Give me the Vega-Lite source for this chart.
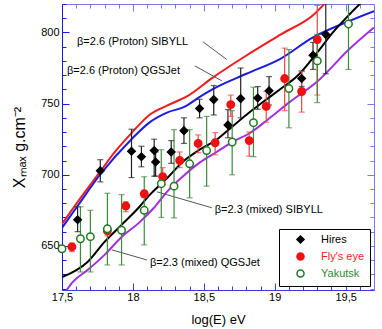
{
  "$schema": "https://vega.github.io/schema/vega-lite/v6.json",
  "width": 312,
  "height": 286,
  "autosize": {"type": "none"},
  "padding": {"left": 62, "top": 4, "right": 8, "bottom": 39},
  "config": {"view": {"stroke": null}, "font": "Liberation Sans"},
  "datasets": {
    "pts": [
      {"set": "Hires", "x": 17.61, "y": 668.3, "lo": 660, "hi": 677.5},
      {"set": "Hires", "x": 17.77, "y": 702.8, "lo": 695, "hi": 710.6},
      {"set": "Hires", "x": 17.99, "y": 716.5, "lo": 698, "hi": 732},
      {"set": "Hires", "x": 18.06, "y": 712.7, "lo": 705.6, "hi": 720},
      {"set": "Hires", "x": 18.15, "y": 717, "lo": 699, "hi": 725},
      {"set": "Hires", "x": 18.16, "y": 709, "lo": 699, "hi": 716},
      {"set": "Hires", "x": 18.27, "y": 716, "lo": 708, "hi": 724},
      {"set": "Hires", "x": 18.36, "y": 731, "lo": 722, "hi": 740},
      {"set": "Hires", "x": 18.47, "y": 746.5, "lo": 740, "hi": 753},
      {"set": "Hires", "x": 18.57, "y": 752.8, "lo": 742, "hi": 762.7},
      {"set": "Hires", "x": 18.67, "y": 735, "lo": 726, "hi": 745.8},
      {"set": "Hires", "x": 18.76, "y": 753.5, "lo": 740, "hi": 775},
      {"set": "Hires", "x": 18.88, "y": 754, "lo": 746, "hi": 762},
      {"set": "Hires", "x": 18.96, "y": 759, "lo": 749, "hi": 769},
      {"set": "Hires", "x": 19.19, "y": 767.6, "lo": 762, "hi": 773},
      {"set": "Hires", "x": 19.27, "y": 784, "lo": 774, "hi": 793},
      {"set": "Hires", "x": 19.36, "y": 798.6, "lo": 771, "hi": 830},
      {"set": "Fly's eye", "x": 17.57, "y": 649.3, "lo": 646, "hi": 652},
      {"set": "Fly's eye", "x": 17.82, "y": 660.6, "lo": 657, "hi": 664},
      {"set": "Fly's eye", "x": 17.95, "y": 678, "lo": 674, "hi": 681},
      {"set": "Fly's eye", "x": 18.08, "y": 686.6, "lo": 684, "hi": 689},
      {"set": "Fly's eye", "x": 18.21, "y": 698.6, "lo": 693, "hi": 705},
      {"set": "Fly's eye", "x": 18.33, "y": 710, "lo": 705, "hi": 716},
      {"set": "Fly's eye", "x": 18.46, "y": 722, "lo": 715.5, "hi": 728},
      {"set": "Fly's eye", "x": 18.58, "y": 722.5, "lo": 714, "hi": 729.6},
      {"set": "Fly's eye", "x": 18.69, "y": 749.3, "lo": 741, "hi": 756},
      {"set": "Fly's eye", "x": 18.82, "y": 724, "lo": 713, "hi": 730},
      {"set": "Fly's eye", "x": 18.94, "y": 748, "lo": 737, "hi": 758.5},
      {"set": "Fly's eye", "x": 19.07, "y": 767.6, "lo": 745, "hi": 789},
      {"set": "Fly's eye", "x": 19.19, "y": 758.5, "lo": 744, "hi": 772.5},
      {"set": "Fly's eye", "x": 19.3, "y": 795, "lo": 756, "hi": 819},
      {"set": "Yakutsk", "x": 17.5, "y": 648, "lo": 646, "hi": 650},
      {"set": "Yakutsk", "x": 17.63, "y": 655, "lo": 631.7, "hi": 677.5},
      {"set": "Yakutsk", "x": 17.7, "y": 656.5, "lo": 631.7, "hi": 675},
      {"set": "Yakutsk", "x": 17.82, "y": 662, "lo": 636.6, "hi": 687},
      {"set": "Yakutsk", "x": 17.92, "y": 661, "lo": 636.6, "hi": 686},
      {"set": "Yakutsk", "x": 18.08, "y": 675, "lo": 650.7, "hi": 698.6},
      {"set": "Yakutsk", "x": 18.2, "y": 693.7, "lo": 670, "hi": 717.6},
      {"set": "Yakutsk", "x": 18.29, "y": 692, "lo": 669.7, "hi": 731.7},
      {"set": "Yakutsk", "x": 18.4, "y": 707.7, "lo": 683.8, "hi": 731.7},
      {"set": "Yakutsk", "x": 18.52, "y": 717, "lo": 692, "hi": 741},
      {"set": "Yakutsk", "x": 18.7, "y": 723, "lo": 700, "hi": 745},
      {"set": "Yakutsk", "x": 18.85, "y": 736.6, "lo": 712.7, "hi": 761.5},
      {"set": "Yakutsk", "x": 19.1, "y": 760.6, "lo": 733, "hi": 788},
      {"set": "Yakutsk", "x": 19.3, "y": 780, "lo": 750.7, "hi": 798.6},
      {"set": "Yakutsk", "x": 19.52, "y": 806, "lo": 774, "hi": 825}
    ],
    "lines": [
      {"series": "SIB26", "x": 17.5, "y": 665.5},
      {"series": "SIB26", "x": 17.606, "y": 680.3},
      {"series": "SIB26", "x": 17.768, "y": 702},
      {"series": "SIB26", "x": 17.873, "y": 716},
      {"series": "SIB26", "x": 17.993, "y": 729.6},
      {"series": "SIB26", "x": 18.12, "y": 742.3},
      {"series": "SIB26", "x": 18.24, "y": 748.6},
      {"series": "SIB26", "x": 18.38, "y": 755},
      {"series": "SIB26", "x": 18.563, "y": 768.3},
      {"series": "SIB26", "x": 18.803, "y": 784},
      {"series": "SIB26", "x": 19.05, "y": 799},
      {"series": "SIB26", "x": 19.28, "y": 813},
      {"series": "SIB26", "x": 19.366, "y": 821.8},
      {"series": "QGS26", "x": 17.5, "y": 662.7},
      {"series": "QGS26", "x": 17.606, "y": 677.5},
      {"series": "QGS26", "x": 17.768, "y": 700},
      {"series": "QGS26", "x": 17.99, "y": 725},
      {"series": "QGS26", "x": 18.12, "y": 737},
      {"series": "QGS26", "x": 18.24, "y": 743.7},
      {"series": "QGS26", "x": 18.37, "y": 748},
      {"series": "QGS26", "x": 18.46, "y": 754},
      {"series": "QGS26", "x": 18.56, "y": 760},
      {"series": "QGS26", "x": 18.8, "y": 771},
      {"series": "QGS26", "x": 19.04, "y": 781.5},
      {"series": "QGS26", "x": 19.27, "y": 796.5},
      {"series": "QGS26", "x": 19.5, "y": 807},
      {"series": "QGS26", "x": 19.7, "y": 815},
      {"series": "SIB23", "x": 17.5, "y": 628},
      {"series": "SIB23", "x": 17.68, "y": 638.7},
      {"series": "SIB23", "x": 17.8, "y": 652.8},
      {"series": "SIB23", "x": 17.92, "y": 664.8},
      {"series": "SIB23", "x": 18.04, "y": 676.8},
      {"series": "SIB23", "x": 18.12, "y": 686},
      {"series": "SIB23", "x": 18.24, "y": 697.5},
      {"series": "SIB23", "x": 18.35, "y": 709},
      {"series": "SIB23", "x": 18.47, "y": 717.6},
      {"series": "SIB23", "x": 18.59, "y": 724.6},
      {"series": "SIB23", "x": 18.7, "y": 733.8},
      {"series": "SIB23", "x": 18.82, "y": 743.7},
      {"series": "SIB23", "x": 18.94, "y": 752.8},
      {"series": "SIB23", "x": 19.05, "y": 761},
      {"series": "SIB23", "x": 19.155, "y": 769},
      {"series": "SIB23", "x": 19.3, "y": 786},
      {"series": "SIB23", "x": 19.41, "y": 800},
      {"series": "SIB23", "x": 19.53, "y": 813},
      {"series": "SIB23", "x": 19.62, "y": 822},
      {"series": "QGS23", "x": 17.52, "y": 617},
      {"series": "QGS23", "x": 17.57, "y": 624},
      {"series": "QGS23", "x": 17.68, "y": 633},
      {"series": "QGS23", "x": 17.8, "y": 643.7},
      {"series": "QGS23", "x": 17.92, "y": 656.3},
      {"series": "QGS23", "x": 18.04, "y": 666},
      {"series": "QGS23", "x": 18.155, "y": 677.5},
      {"series": "QGS23", "x": 18.24, "y": 688},
      {"series": "QGS23", "x": 18.35, "y": 698.6},
      {"series": "QGS23", "x": 18.47, "y": 708.5},
      {"series": "QGS23", "x": 18.59, "y": 716},
      {"series": "QGS23", "x": 18.7, "y": 723},
      {"series": "QGS23", "x": 18.82, "y": 729},
      {"series": "QGS23", "x": 18.95, "y": 738.7},
      {"series": "QGS23", "x": 19.1, "y": 750.7},
      {"series": "QGS23", "x": 19.3, "y": 765.5},
      {"series": "QGS23", "x": 19.53, "y": 788.7},
      {"series": "QGS23", "x": 19.7, "y": 803.5}
    ],
    "ann": [
      {"label": "β=2.6 (Proton) SIBYLL", "x": 17.606, "y": 793},
      {"label": "β=2.6 (Proton) QGSJet", "x": 17.535, "y": 773.2},
      {"label": "β=2.3 (mixed) SIBYLL", "x": 18.577, "y": 675.4},
      {"label": "β=2.3 (mixed) QGSJet", "x": 18.12, "y": 638}
    ],
    "lead": [
      {"x": 18.493, "y": 793.5, "x2": 18.662, "y2": 781},
      {"x": 18.437, "y": 776.5, "x2": 18.627, "y2": 766},
      {"x": 18.169, "y": 688, "x2": 18.556, "y2": 676.8},
      {"x": 17.852, "y": 647.2, "x2": 18.099, "y2": 640.1}
    ]
  },
  "resolve": {"axis": {"x": "independent", "y": "independent"}, "scale": {"color": "independent"}},
  "layer": [
    {
      "data": {"name": "lines"},
      "mark": {"type": "line", "strokeWidth": 2, "clip": true, "interpolate": "monotone"},
      "encoding": {
        "x": {
          "field": "x", "type": "quantitative",
          "scale": {"domain": [17.5, 19.7], "nice": false, "zero": false},
          "axis": {
            "orient": "bottom",
            "values": [17.5, 17.6, 17.7, 17.8, 17.9, 18, 18.1, 18.2, 18.3, 18.4, 18.5, 18.6, 18.7, 18.8, 18.9, 19, 19.1, 19.2, 19.3, 19.4, 19.5, 19.6, 19.7],
            "labelExpr": "abs(datum.value*2 - round(datum.value*2)) < 0.01 ? replace(format(datum.value, '.1~f'), '.', ',') : ''",
            "labelOverlap": false, "labelFlush": false,
            "tickSize": {"condition": {"test": "abs(datum.value*2 - round(datum.value*2)) < 0.01", "value": -7}, "value": -4},
            "labelPadding": 8,
            "grid": false,
            "domainColor": "#3a3aee", "tickColor": "#3a3aee",
            "labelColor": "black", "labelFontSize": 11, "labelFont": "Liberation Sans",
            "title": "log(E) eV", "titleFontSize": 13, "titleFontWeight": "normal", "titleColor": "black", "titlePadding": 8
          }
        },
        "y": {
          "field": "y", "type": "quantitative",
          "scale": {"domain": [619, 820], "nice": false, "zero": false},
          "axis": {
            "orient": "left",
            "values": [620, 630, 640, 650, 660, 670, 680, 690, 700, 710, 720, 730, 740, 750, 760, 770, 780, 790, 800, 810, 820],
            "labelExpr": "datum.value % 50 == 0 ? datum.label : ''",
            "labelOverlap": false, "labelFlush": false,
            "tickSize": {"condition": {"test": "datum.value % 50 == 0", "value": -7}, "value": -4},
            "labelPadding": 10,
            "grid": false,
            "domainColor": "#1a1ae8", "tickColor": "#1a1ae8",
            "labelColor": "black", "labelFontSize": 11, "labelFont": "Liberation Sans",
            "title": "Xₘₐₓ g.cm⁻²", "titleFontSize": 16, "titleFontWeight": "normal", "titleColor": "black", "titlePadding": 13
          }
        },
        "color": {
          "field": "series", "type": "nominal", "legend": null,
          "scale": {"domain": ["SIB26", "QGS26", "SIB23", "QGS23"], "range": ["#ee1c1c", "#1c1ce0", "#000000", "#a030e0"]}
        },
        "detail": {"field": "series"},
        "order": {"field": "x", "type": "quantitative"}
      }
    },
    {
      "data": {"name": "lead"},
      "mark": {"type": "rule", "color": "#555555", "strokeWidth": 1},
      "encoding": {
        "x": {"field": "x", "type": "quantitative", "axis": null},
        "y": {"field": "y", "type": "quantitative", "axis": null},
        "x2": {"field": "x2"},
        "y2": {"field": "y2"}
      }
    },
    {
      "data": {"name": "ann"},
      "mark": {"type": "text", "align": "left", "baseline": "middle", "fontSize": 11, "font": "Liberation Sans", "color": "black"},
      "encoding": {
        "x": {"field": "x", "type": "quantitative", "axis": null},
        "y": {"field": "y", "type": "quantitative", "axis": null},
        "text": {"field": "label"}
      }
    },
    {
      "data": {"name": "pts"},
      "mark": {"type": "rule", "strokeWidth": 1.2, "clip": true},
      "encoding": {
        "x": {"field": "x", "type": "quantitative", "axis": null},
        "y": {"field": "lo", "type": "quantitative", "axis": null},
        "y2": {"field": "hi"},
        "color": {"field": "set", "type": "nominal", "legend": null, "scale": {"domain": ["Hires", "Fly's eye", "Yakutsk"], "range": ["#222222", "#ee4444", "#3d8a3d"]}}
      }
    },
    {
      "data": {"name": "pts"},
      "mark": {"type": "tick", "orient": "horizontal", "size": 6, "thickness": 1.2, "clip": true},
      "encoding": {
        "x": {"field": "x", "type": "quantitative", "axis": null},
        "y": {"field": "lo", "type": "quantitative", "axis": null},
        "color": {"field": "set", "type": "nominal", "legend": null, "scale": {"domain": ["Hires", "Fly's eye", "Yakutsk"], "range": ["#222222", "#ee4444", "#3d8a3d"]}}
      }
    },
    {
      "data": {"name": "pts"},
      "mark": {"type": "tick", "orient": "horizontal", "size": 6, "thickness": 1.2, "clip": true},
      "encoding": {
        "x": {"field": "x", "type": "quantitative", "axis": null},
        "y": {"field": "hi", "type": "quantitative", "axis": null},
        "color": {"field": "set", "type": "nominal", "legend": null, "scale": {"domain": ["Hires", "Fly's eye", "Yakutsk"], "range": ["#222222", "#ee4444", "#3d8a3d"]}}
      }
    },
    {
      "data": {"name": "pts"},
      "mark": {"type": "point", "size": 55, "strokeWidth": 1.5, "opacity": 1},
      "encoding": {
        "x": {
          "field": "x", "type": "quantitative",
          "axis": {
            "orient": "top",
            "values": [17.5, 17.6, 17.7, 17.8, 17.9, 18, 18.1, 18.2, 18.3, 18.4, 18.5, 18.6, 18.7, 18.8, 18.9, 19, 19.1, 19.2, 19.3, 19.4, 19.5, 19.6, 19.7],
            "labels": false, "title": null, "grid": false,
            "tickSize": {"condition": {"test": "abs(datum.value*2 - round(datum.value*2)) < 0.01", "value": -7}, "value": -4},
            "domainColor": "#7a7ae6", "tickColor": "#7a7ae6"
          }
        },
        "y": {
          "field": "y", "type": "quantitative",
          "axis": {
            "orient": "right",
            "values": [620, 630, 640, 650, 660, 670, 680, 690, 700, 710, 720, 730, 740, 750, 760, 770, 780, 790, 800, 810, 820],
            "labels": false, "title": null, "grid": false,
            "tickSize": {"condition": {"test": "datum.value % 50 == 0", "value": -7}, "value": -4},
            "domainColor": "#7a7ae6", "tickColor": "#7a7ae6"
          }
        },
        "shape": {
          "field": "set", "type": "nominal",
          "scale": {"domain": ["Hires", "Fly's eye", "Yakutsk"], "range": ["diamond", "circle", "circle"]},
          "legend": {"title": null, "orient": "none", "legendX": 217, "legendY": 225, "direction": "vertical", "fillColor": "white", "strokeColor": "black", "padding": 5, "rowPadding": 2, "symbolSize": 50, "symbolStrokeWidth": 1.5, "symbolOffset": 11, "labelOffset": 15, "labelFontSize": 11, "labelFont": "Liberation Sans", "labelColor": {"expr": "datum.label == 'Hires' ? 'black' : (datum.label == 'Yakutsk' ? '#2e8b2e' : '#ee2222')"}}
        },
        "fill": {
          "field": "set", "type": "nominal",
          "scale": {"domain": ["Hires", "Fly's eye", "Yakutsk"], "range": ["#000000", "#ee1111", "#ffffff"]},
          "legend": {"title": null, "orient": "none", "legendX": 217, "legendY": 225, "direction": "vertical", "fillColor": "white", "strokeColor": "black", "padding": 5, "rowPadding": 2, "symbolSize": 50, "symbolStrokeWidth": 1.5, "symbolOffset": 11, "labelOffset": 15, "labelFontSize": 11, "labelFont": "Liberation Sans", "labelColor": {"expr": "datum.label == 'Hires' ? 'black' : (datum.label == 'Yakutsk' ? '#2e8b2e' : '#ee2222')"}}
        },
        "stroke": {
          "field": "set", "type": "nominal",
          "scale": {"domain": ["Hires", "Fly's eye", "Yakutsk"], "range": ["#000000", "#ee1111", "#1e7a1e"]},
          "legend": {"title": null, "orient": "none", "legendX": 217, "legendY": 225, "direction": "vertical", "fillColor": "white", "strokeColor": "black", "padding": 5, "rowPadding": 2, "symbolSize": 50, "symbolStrokeWidth": 1.5, "symbolOffset": 11, "labelOffset": 15, "labelFontSize": 11, "labelFont": "Liberation Sans", "labelColor": {"expr": "datum.label == 'Hires' ? 'black' : (datum.label == 'Yakutsk' ? '#2e8b2e' : '#ee2222')"}}
        }
      }
    }
  ]
}
